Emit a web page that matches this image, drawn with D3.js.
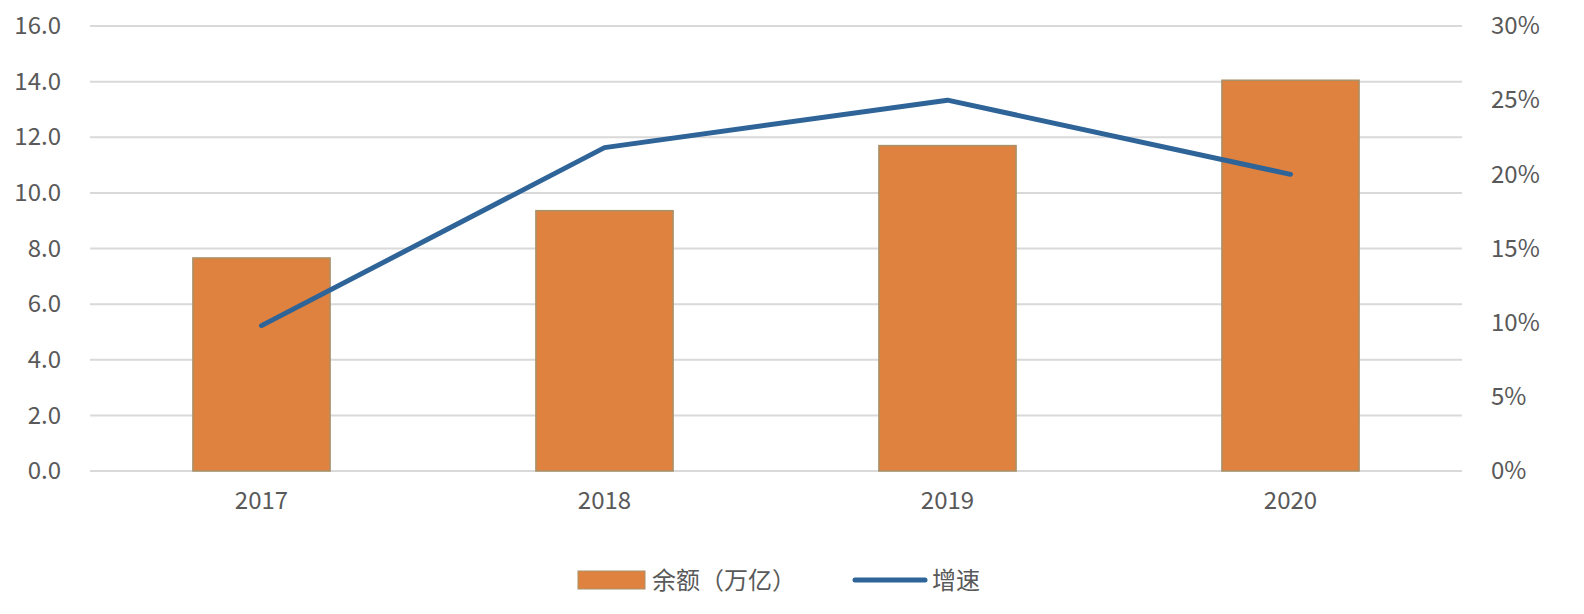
<!DOCTYPE html>
<html><head><meta charset="utf-8">
<script src="https://cdn.jsdelivr.net/npm/d3@7"></script>
<style>body{margin:0;background:#fff}</style>
</head><body>
<svg id="chart" width="1584" height="614"></svg>
<script>
const years = ["2017", "2018", "2019", "2020"];
const balance = [7.66, 9.36, 11.7, 14.05];
const growth = [9.8, 21.8, 25.0, 20.0];
const leftTicks = [0, 2, 4, 6, 8, 10, 12, 14, 16];
const rightTicks = [0, 5, 10, 15, 20, 25, 30];

const font = "'Noto Sans CJK SC', 'Noto Sans', sans-serif";
const svg = d3.select("#chart").style("font-family", font);
const plotL = 90, plotR = 1462, plotT = 26, plotB = 471;

const x = d3.scaleBand().domain(years).range([plotL, plotR]).paddingInner(0.6).paddingOuter(0.3);
const y = d3.scaleLinear().domain([0, 16]).range([plotB, plotT]);
const y2 = d3.scaleLinear().domain([0, 30]).range([plotB, plotT]);

// grid
svg.append("g").selectAll("line").data(leftTicks).join("line")
    .attr("x1", plotL).attr("x2", plotR)
    .attr("y1", d => y(d)).attr("y2", d => y(d))
    .attr("stroke", "#d9d9d9").attr("stroke-width", 2);

// left axis
svg.append("g").attr("transform", `translate(${plotL - 26},0)`)
    .call(d3.axisLeft(y).tickValues(leftTicks).tickFormat(d3.format(".1f")).tickSize(0))
    .call(g => g.select(".domain").remove())
    .selectAll("text").attr("fill", "#595959").style("font-size", "24px").style("font-family", font);

// right axis
svg.append("g").attr("transform", `translate(${plotR + 26},0)`)
    .call(d3.axisRight(y2).tickValues(rightTicks).tickFormat(d => d + "%").tickSize(0))
    .call(g => g.select(".domain").remove())
    .selectAll("text").attr("fill", "#595959").style("font-size", "24px").style("font-family", font);

// bars
svg.append("g").selectAll("rect").data(years).join("rect")
    .attr("x", d => x(d)).attr("width", x.bandwidth())
    .attr("y", (d, i) => y(balance[i])).attr("height", (d, i) => plotB - y(balance[i]))
    .attr("fill", "#E0823F").attr("stroke", "#a8926a").attr("stroke-width", 1.5);

// x axis labels
svg.append("g").attr("transform", `translate(0,${plotB + 18})`)
    .call(d3.axisBottom(x).tickSize(0))
    .call(g => g.select(".domain").remove())
    .selectAll("text").attr("fill", "#595959").style("font-size", "24px").style("font-family", font);

// line
const line = d3.line().x((d, i) => x(years[i]) + x.bandwidth() / 2).y(d => y2(d));
svg.append("path").datum(growth).attr("d", line)
    .attr("fill", "none").attr("stroke", "#2E6497").attr("stroke-width", 5)
    .attr("stroke-linejoin", "round").attr("stroke-linecap", "round");

// legend
const lg = svg.append("g");
lg.append("rect").attr("x", 578).attr("y", 571).attr("width", 67).attr("height", 18)
    .attr("fill", "#E0823F").attr("stroke", "#a8926a");
lg.append("text").attr("x", 652).attr("y", 589).text("余额（万亿）")
    .attr("fill", "#595959").style("font-size", "24px");
lg.append("line").attr("x1", 855).attr("x2", 925).attr("y1", 580).attr("y2", 580)
    .attr("stroke", "#2E6497").attr("stroke-width", 5).attr("stroke-linecap", "round");
lg.append("text").attr("x", 932).attr("y", 589).text("增速")
    .attr("fill", "#595959").style("font-size", "24px");
</script>
</body></html>
